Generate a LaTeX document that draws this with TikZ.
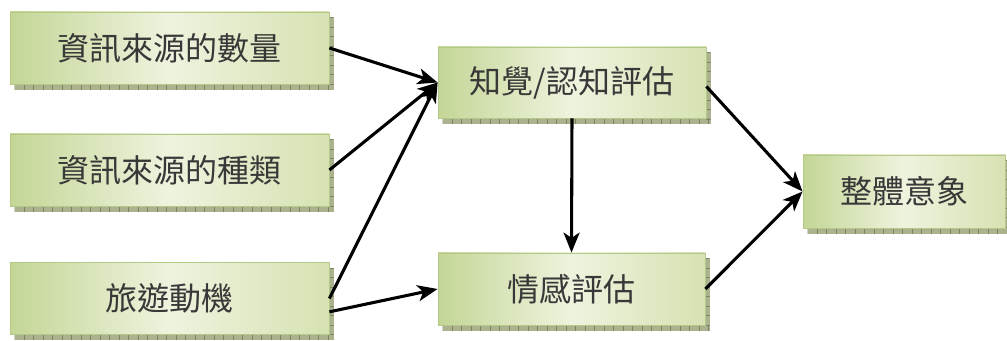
\documentclass[tikz,border=0pt]{standalone}
\usepackage{fontspec}
\newfontfamily\cjk{Noto Sans CJK TC}
\usetikzlibrary{arrows.meta,backgrounds}
\definecolor{gA}{RGB}{196,214,150}
\definecolor{gB}{RGB}{214,226,178}
\definecolor{gC}{RGB}{238,243,222}
\definecolor{gEdge}{RGB}{180,200,135}
\definecolor{shC}{RGB}{172,178,142}
\definecolor{tkC}{RGB}{125,130,100}
\tikzset{
  gbox/.style={draw=gEdge, line width=0.6pt, left color=gA, right color=gB, middle color=gC,
    inner sep=0pt, font=\cjk\fontsize{24}{24}\selectfont, text=black!78},
  arr/.style={line width=2.3pt, -{Stealth[length=15pt,width=12pt,inset=4pt]}}
}
% shadow with tick marks: name, width(px), height(px)
\newcommand\gshadow[3]{%
  \begin{scope}[on background layer, shift={(#1.north west)}]
    \fill[shC] (5,6) rectangle (#2+5,#3+6);
    \begin{scope}
      \clip (5,6) rectangle (#2+5,#3+6);
      \foreach \i in {0,...,40} {\draw[tkC, line width=0.4pt] (5+\i*9.5,#3) -- (5+\i*9.5,#3+6);}
      \foreach \i in {0,...,10} {\draw[tkC, line width=0.4pt] (#2,6+\i*9.5) -- (#2+5,6+\i*9.5);}
    \end{scope}
  \end{scope}}
\begin{document}
\begin{tikzpicture}[x=0.75pt,y=-0.75pt]
\useasboundingbox (0,0) rectangle (1007,341);
\node[gbox, minimum width=239.25pt, minimum height=54pt] (src1) at (169.5,48) {資訊來源的數量};
\node[gbox, minimum width=239.25pt, minimum height=54pt] (src2) at (169.5,170) {資訊來源的種類};
\node[gbox, minimum width=239.25pt, minimum height=54pt] (src3) at (169.5,298.5) {旅遊動機};
\node[gbox, minimum width=201pt, minimum height=53.25pt] (cog) at (572,82.5) {知覺/認知評估};
\node[gbox, minimum width=200.25pt, minimum height=54pt] (aff) at (571.5,289) {情感評估};
\node[gbox, minimum width=151.5pt, minimum height=54.75pt] (img) at (904,191.5) {整體意象};
\gshadow{src1}{319}{72}
\gshadow{src2}{319}{72}
\gshadow{src3}{319}{72}
\gshadow{cog}{268}{71}
\gshadow{aff}{267}{72}
\gshadow{img}{202}{73}
\draw[arr] (src1.east) -- (cog.west);
\draw[arr] (src2.east) -- (cog.west);
\draw[arr] (src3.east) -- (cog.west);
\draw[arr] ([yshift=-10pt]src3.east) -- (aff.west);
\draw[arr] (cog.south) -- (aff.north);
\draw[arr] ([yshift=-3pt]cog.east) -- (img.west);
\draw[arr] (aff.east) -- (img.west);
\end{tikzpicture}
\end{document}
